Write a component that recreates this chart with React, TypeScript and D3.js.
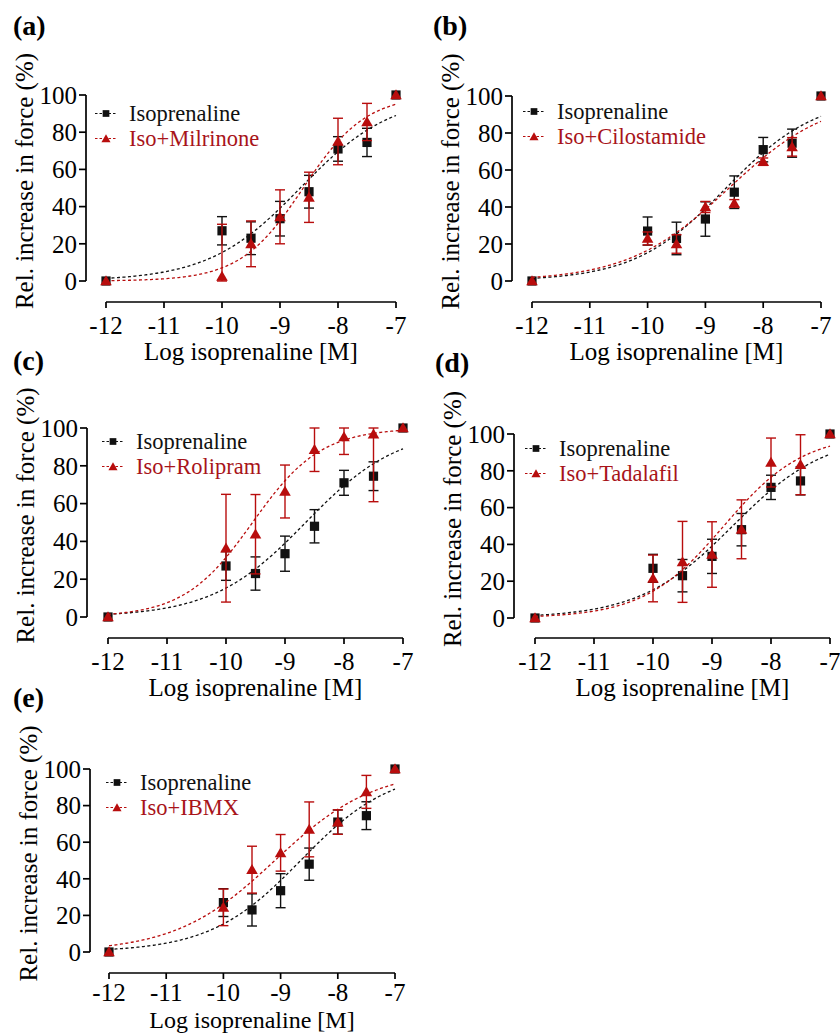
import React from "react";
import * as d3 from "d3";

const logConc = [-12, -10, -9.5, -9, -8.5, -8, -7.5, -7];
const xTicks = [-12, -11, -10, -9, -8, -7];
const yTicks = [0, 20, 40, 60, 80, 100];

const isoMean = [0, 27, 23, 33.5, 48, 71, 74.5, 100];
const isoSem = [0, 7.6, 8.8, 9.3, 8.8, 6.6, 7.6, 0];

const milMean = [0, 2.5, 20, 34.5, 45, 75, 85.5, 100];
const milSem = [0, 28, 12.3, 14.5, 13.5, 12.5, 10, 0];

const ciloMean = [0, 23, 20, 40, 42, 64.5, 72.5, 100];
const ciloSem = [0, 3.5, 5, 3, 2, 2, 5, 0];

const roliMean = [0, 36.4, 43.8, 66.4, 88.6, 95.3, 96.7, 100];
const roliSem = [0, 28.5, 21, 14, 11.6, 9.3, 35.7, 0];

const tadaMean = [0, 21.5, 30.5, 34.5, 48.2, 84.5, 83.3, 100];
const tadaSem = [0, 12.7, 22, 17.8, 16, 13.3, 16.3, 0];

const ibmxMean = [0, 24.4, 45, 54.2, 67, 71, 87.5, 100];
const ibmxSem = [0, 10, 12.8, 10, 15, 6.7, 9, 0];

// Fitted sigmoidal curves: [bottom, top, logEC50, hill slope]
const isoFit = [0, 100, -8.65, 0.55];
const milFit = [0, 100, -8.6, 0.8];
const ciloFit = [0, 100, -8.6, 0.5];
const roliFit = [0, 100, -9.55, 0.75];
const tadaFit = [0, 100, -8.8, 0.64];
const ibmxFit = [0, 100, -9.1, 0.5];

const panelLabels = ["(a)", "(b)", "(c)", "(d)", "(e)"];
const drugNames = ["Iso+Milrinone", "Iso+Cilostamide", "Iso+Rolipram", "Iso+Tadalafil", "Iso+IBMX"];
const drugMeans = [milMean, ciloMean, roliMean, tadaMean, ibmxMean];
const drugSems = [milSem, ciloSem, roliSem, tadaSem, ibmxSem];
const drugFits = [milFit, ciloFit, roliFit, tadaFit, ibmxFit];

const layouts = [
  { axisX: 86, y0: 281, y100: 95, xAxisY: 302, xL: 106, xR: 396, legX: 95, legY: 114, labX: 13, labY: 35, tickDy: 32, titleDy: 58, titleFs: 25 },
  { axisX: 512, y0: 281, y100: 96, xAxisY: 302, xL: 532, xR: 821, legX: 523, legY: 112, labX: 433, labY: 35, tickDy: 32, titleDy: 58, titleFs: 25 },
  { axisX: 87, y0: 617, y100: 428, xAxisY: 638, xL: 108, xR: 403, legX: 102, legY: 442, labX: 13, labY: 370, tickDy: 32, titleDy: 58, titleFs: 25 },
  { axisX: 514, y0: 618, y100: 434, xAxisY: 638, xL: 535, xR: 830, legX: 525, legY: 449, labX: 435, labY: 372, tickDy: 32, titleDy: 58, titleFs: 25 },
  { axisX: 90, y0: 952, y100: 769, xAxisY: 973, xL: 109, xR: 395, legX: 106, legY: 783, labX: 13, labY: 707, tickDy: 28, titleDy: 55, titleFs: 24 },
];

const FONT = "'Liberation Serif', 'Times New Roman', Times, serif";
const BLACK = "#111";
const RED = "#B80D0D";
const RED_TEXT = "#A8141A";
const LEG_FS = 22.5;
const LEG_GAP = 25;

function hill(p: number[], x: number) {
  const [b, t, ec, h] = p;
  return b + (t - b) / (1 + Math.pow(10, (ec - x) * h));
}

const squarePath = d3.symbol().type(d3.symbolSquare).size(85)() as string;
const trianglePath = d3.symbol().type(d3.symbolTriangle).size(58)() as string;
const legSquare = d3.symbol().type(d3.symbolSquare).size(45)() as string;
const legTriangle = d3.symbol().type(d3.symbolTriangle).size(36)() as string;

function Series({ x, y, mean, sem, fit, color, marker }: any) {
  const samples = d3.range(0, 201).map((i) => -12 + (5 * i) / 200);
  const line = d3
    .line<number>()
    .x((d) => x(d))
    .y((d) => y(hill(fit, d)));
  const clip = (v: number) => Math.max(0, Math.min(100, v));
  return (
    <g>
      <path d={line(samples) as string} fill="none" stroke={color} strokeWidth={1.3} strokeDasharray="3,2.5" />
      {logConc.map((c, i) => {
        const s = sem[i];
        if (!s) return null;
        const top = y(clip(mean[i] + s));
        const bot = y(clip(mean[i] - s));
        const cx = x(c);
        return (
          <g key={"e" + i} stroke={color} strokeWidth={1.4}>
            <line x1={cx} x2={cx} y1={top} y2={bot} />
            <line x1={cx - 5} x2={cx + 5} y1={top} y2={top} />
            <line x1={cx - 5} x2={cx + 5} y1={bot} y2={bot} />
          </g>
        );
      })}
      {logConc.map((c, i) => (
        <path
          key={"m" + i}
          d={marker}
          transform={`translate(${x(c)},${y(mean[i]) + (marker === trianglePath ? 1 : 0)})`}
          fill={color}
        />
      ))}
    </g>
  );
}

function Panel({ idx }: { idx: number }) {
  const L = layouts[idx];
  const x = d3.scaleLinear().domain([-12, -7]).range([L.xL, L.xR]);
  const y = d3.scaleLinear().domain([0, 100]).range([L.y0, L.y100]);
  const yMid = (L.y0 + L.y100) / 2 - 7;
  const r1 = L.legY - 0.5;
  const r2 = r1 + LEG_GAP;
  return (
    <g fontFamily={FONT}>
      <text x={L.labX} y={L.labY} fontSize={28} fontWeight="bold" fill="#000">
        {panelLabels[idx]}
      </text>
      {/* y axis */}
      <line x1={L.axisX} x2={L.axisX} y1={y(0)} y2={y(100)} stroke="#000" strokeWidth={1.7} />
      {yTicks.map((t) => (
        <g key={"yt" + t}>
          <line x1={L.axisX - 7} x2={L.axisX} y1={y(t)} y2={y(t)} stroke="#000" strokeWidth={1.7} />
          <text x={L.axisX - 9} y={y(t)} dy="0.35em" textAnchor="end" fontSize={25} fill="#000">
            {t}
          </text>
        </g>
      ))}
      <text
        transform={`translate(${L.axisX - 53},${yMid}) rotate(-90)`}
        textAnchor="middle"
        fontSize={25}
        fill="#000"
      >
        Rel. increase in force (%)
      </text>
      {/* x axis */}
      <line x1={x(-12)} x2={x(-7)} y1={L.xAxisY} y2={L.xAxisY} stroke="#000" strokeWidth={1.7} />
      {xTicks.map((t) => (
        <g key={"xt" + t}>
          <line x1={x(t)} x2={x(t)} y1={L.xAxisY} y2={L.xAxisY + 6} stroke="#000" strokeWidth={1.7} />
          <text x={x(t)} y={L.xAxisY + L.tickDy} textAnchor="middle" fontSize={25} fill="#000">
            {t}
          </text>
        </g>
      ))}
      <text x={(L.xL + L.xR) / 2} y={L.xAxisY + L.titleDy} textAnchor="middle" fontSize={L.titleFs} fill="#000">
        Log isoprenaline [M]
      </text>
      {/* data */}
      <Series x={x} y={y} mean={isoMean} sem={isoSem} fit={isoFit} color={BLACK} marker={squarePath} />
      <Series
        x={x}
        y={y}
        mean={drugMeans[idx]}
        sem={drugSems[idx]}
        fit={drugFits[idx]}
        color={RED}
        marker={trianglePath}
      />
      {/* legend */}
      <g>
        <line x1={L.legX} x2={L.legX + 22} y1={r1} y2={r1} stroke={BLACK} strokeWidth={1.2} strokeDasharray="2.5,2" />
        <path d={legSquare} transform={`translate(${L.legX + 11},${r1})`} fill={BLACK} />
        <text x={L.legX + 34} y={r1} dy="0.35em" fontSize={LEG_FS} fill="#111">
          Isoprenaline
        </text>
        <line x1={L.legX} x2={L.legX + 22} y1={r2} y2={r2} stroke={RED} strokeWidth={1.2} strokeDasharray="2.5,2" />
        <path d={legTriangle} transform={`translate(${L.legX + 11},${r2 + 1})`} fill={RED} />
        <text x={L.legX + 34} y={r2} dy="0.35em" fontSize={LEG_FS} fill={RED_TEXT}>
          {drugNames[idx]}
        </text>
      </g>
    </g>
  );
}

export default function App() {
  return (
    <svg width={840} height={1033} style={{ position: "absolute", left: 0, top: 0, background: "#fff" }}>
      <rect width={840} height={1033} fill="#fff" />
      {layouts.map((_, i) => (
        <Panel key={i} idx={i} />
      ))}
    </svg>
  );
}
